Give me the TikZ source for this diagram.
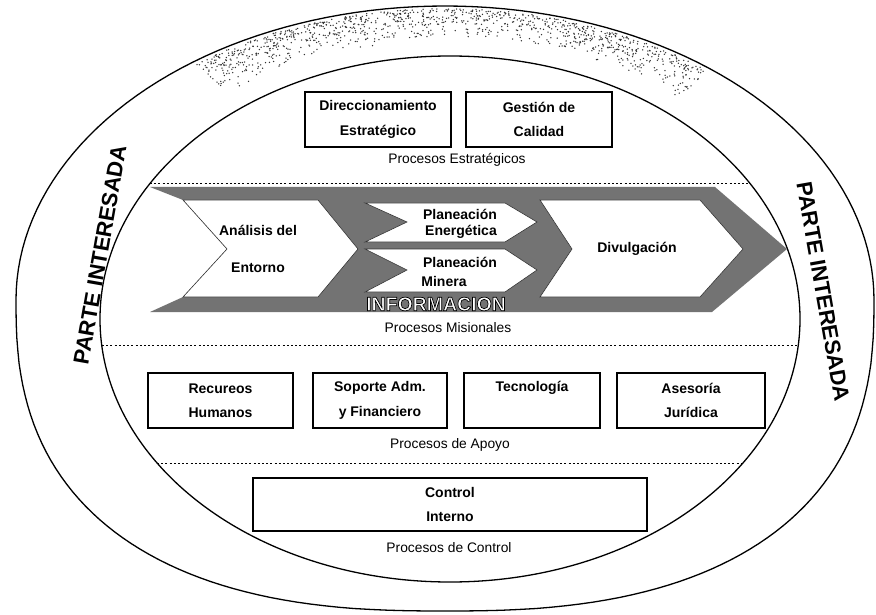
\documentclass[tikz,border=0pt]{standalone}
\usepackage{fontspec}
\setmainfont{Liberation Sans}
\begin{document}
\begin{tikzpicture}[x=1pt,y=-1pt,
  ring/.style={draw=black,line width=1.3pt},
  sep/.style={draw=black,line width=0.9pt,dash pattern=on 2pt off 2.2pt},
  band/.style={fill=black!55},
  chev/.style={fill=white,draw=black!80,line width=0.6pt},
  procbox/.style={draw=black,line width=1.1pt,align=center,inner sep=0pt,font=\bfseries\fontsize{14}{24.5}\selectfont},
  chevtext/.style={font=\bfseries\fontsize{14}{16}\selectfont,inner sep=0pt},
  grouplabel/.style={font=\fontsize{13.8}{15}\selectfont,inner sep=0pt},
  stake/.style={font=\bfseries\fontsize{22}{24}\selectfont,inner sep=0pt},
  infotext/.style={font=\bfseries\fontsize{19.5}{20}\selectfont,inner sep=0pt},
  speck/.style={fill=black!80}
]
\useasboundingbox (0,0) rectangle (876,615);
\fill[white] (0,0) rectangle (876,615);

% scan speckles in the top of the ring
\pgfmathsetseed{17}
\foreach \k in {1,...,1100}{
  \pgfmathsetmacro\th{52+74*rnd}
  \pgfmathsetmacro\ss{0.3+0.65*sqrt(rnd)}
  \fill[speck] ({(450+350*cos(\th))*(1-\ss)+(445+429*cos(\th))*\ss},{(319-263*sin(\th))*(1-\ss)+(300-294*sin(\th))*\ss}) circle[radius=0.75pt];
}

% outer ring
\draw[ring] plot[domain=0:180,samples=91] ({445+429*cos(\x)},{300-294*sin(\x)})
  -- plot[domain=180.5:359.5,samples=100] ({445+429*sign(cos(\x))*pow(abs(cos(\x)),0.8)},{300+311*pow(abs(sin(\x)),0.8)}) -- cycle;

% inner ring
\draw[ring] (450,319) ellipse [x radius=350, y radius=263];

% separators
\coordinate (s1a) at (150,183); \coordinate (s1b) at (750,183);
\coordinate (s2a) at (102,345); \coordinate (s2b) at (798,345);
\coordinate (s3a) at (157,463); \coordinate (s3b) at (743,463);
\draw[sep] (s1a) -- (s1b);
\draw[sep] (s2a) -- (s2b);
\draw[sep] (s3a) -- (s3b);

% strategic boxes
\node[procbox,minimum width=146pt,minimum height=55pt] (dir) at (378,119.5) {Direccionamiento\\Estratégico};
\node[procbox,minimum width=146pt,minimum height=55pt] (cal) at (539,119.5) {Gestión de\\Calidad};
\node[grouplabel] (lab1) at (457,160) {Procesos Estratégicos};

% mission band
\fill[band] (150,187) -- (715,187) -- (787,249) -- (712,312) -- (150,312) -- (183,297) -- (227,249) -- (183,200) -- cycle;
\draw[chev] (183,200) -- (318,200) -- (358,249) -- (318,297) -- (183,297) -- (227,249) -- cycle;
\draw[chev] (365,203) -- (505,203) -- (537,222) -- (505,242) -- (365,242) -- (407,222) -- cycle;
\draw[chev] (365,249) -- (505,249) -- (537,270) -- (505,292) -- (365,292) -- (407,270) -- cycle;
\draw[chev] (540,200) -- (700,200) -- (743,249) -- (700,297) -- (540,297) -- (572,249) -- cycle;

\node[chevtext] (ana1) at (258,230) {Análisis del};
\node[chevtext] (ana2) at (258,268) {Entorno};
\node[chevtext] (pe1) at (460,214) {Planeación};
\node[chevtext] (pe2) at (461,232) {Energética};
\node[chevtext] (pm1) at (460,262) {Planeación};
\node[chevtext] (pm2) at (444,281) {Minera};
\node[chevtext] (div) at (637,249) {Divulgación};

\node[infotext,text=white] (info) at (436,304) {\special{pdf:literal direct 0 G 0.7 w 2 Tr}INFORMACION\special{pdf:literal direct 0 Tr}};
\node[grouplabel] (lab2) at (448,328) {Procesos Misionales};

% support boxes
\node[procbox,minimum width=145pt,minimum height=55pt] (rh) at (220.5,400.5) {Recureos\\Humanos};
\node[procbox,minimum width=134pt,minimum height=55pt] (sa) at (380,400.5) {Soporte Adm.\\y Financiero};
\node[procbox,minimum width=136pt,minimum height=55pt] (te) at (532,400.5) {Tecnología\\\phantom{Tecnología}};
\node[procbox,minimum width=148pt,minimum height=55pt] (as) at (691,400.5) {Asesoría\\Jurídica};
\node[grouplabel] (lab3) at (450,445) {Procesos de Apoyo};

% control
\node[procbox,minimum width=394pt,minimum height=53pt] (ci) at (450,504.5) {Control\\Interno};
\node[grouplabel] (lab4) at (449,548) {Procesos de Control};

% stakeholders
\node[stake,rotate=80] (pil) at (100,255) {PARTE INTERESADA};
\node[stake,rotate=-80] (pir) at (823,292) {PARTE INTERESADA};
\end{tikzpicture}
\end{document}
